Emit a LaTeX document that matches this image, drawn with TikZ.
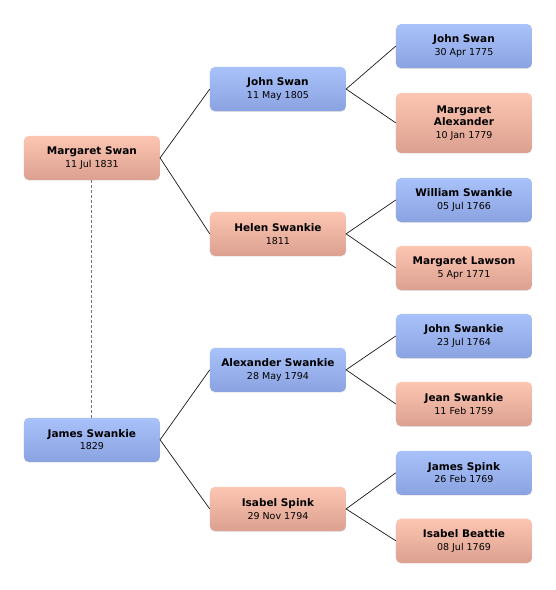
\documentclass[tikz,border=0pt]{standalone}
\usepackage{fontspec}
\setmainfont{DejaVu Sans}
\definecolor{maletop}{RGB}{170,194,250}
\definecolor{malebot}{RGB}{138,162,224}
\definecolor{femtop}{RGB}{252,198,178}
\definecolor{fembot}{RGB}{220,160,144}
\usetikzlibrary{positioning,shadows}
\newcommand{\dt}[1]{{\mdseries\fontsize{9.5}{12.5}\selectfont #1}}

\begin{document}
\begin{tikzpicture}[
    person/.style={rectangle, rounded corners=5pt, minimum width=4.78cm, minimum height=1.55cm,
        align=center, inner ysep=4pt, font=\fontsize{10.5}{12.5}\selectfont\bfseries,
        drop shadow={opacity=0.22, shadow xshift=0pt, shadow yshift=-0.8pt}},
    male/.style={person, top color=maletop, bottom color=malebot},
    female/.style={person, top color=femtop, bottom color=fembot},
    link/.style={line width=0.7pt, black!90},
]
    \useasboundingbox (0,0) rectangle (19.54,-20.74);

    % first generation
    \node[female] (ms) at (3.23,-5.55) {Margaret Swan\\\dt{11 Jul 1831}};
    \node[male] (js) at (3.23,-15.46) {James Swankie\\\dt{1829}};
    \draw[black!55, line width=0.9pt, dash pattern=on 3pt off 2pt] (ms)--(js);

    % parents
    \node[male] (jsw) at (9.77,-3.13) {John Swan\\\dt{11 May 1805}};
    \node[female] (hs) at (9.77,-8.22) {Helen Swankie\\\dt{1811}};
    \node[male] (as) at (9.77,-13.00) {Alexander Swankie\\\dt{28 May 1794}};
    \node[female] (is) at (9.77,-17.89) {Isabel Spink\\\dt{29 Nov 1794}};

    % grandparents
    \node[male] (jsw2) at (16.31,-1.62) {John Swan\\\dt{30 Apr 1775}};
    \node[female, minimum height=2.11cm] (ma) at (16.31,-4.32) {Margaret\\Alexander\\\dt{10 Jan 1779}};
    \node[male] (ws) at (16.31,-7.03) {William Swankie\\\dt{05 Jul 1766}};
    \node[female] (ml) at (16.31,-9.42) {Margaret Lawson\\\dt{5 Apr 1771}};
    \node[male] (jsk) at (16.31,-11.81) {John Swankie\\\dt{23 Jul 1764}};
    \node[female] (jns) at (16.31,-14.20) {Jean Swankie\\\dt{11 Feb 1759}};
    \node[male] (jsp) at (16.31,-16.62) {James Spink\\\dt{26 Feb 1769}};
    \node[female] (ib) at (16.31,-19.01) {Isabel Beattie\\\dt{08 Jul 1769}};

    \draw[link] (jsw.west)--(ms.east)--(hs.west);
    \draw[link] (as.west)--(js.east)--(is.west);
    \draw[link] (jsw2.west)--(jsw.east)--(ma.west);
    \draw[link] (ws.west)--(hs.east)--(ml.west);
    \draw[link] (jsk.west)--(as.east)--(jns.west);
    \draw[link] (jsp.west)--(is.east)--(ib.west);
\end{tikzpicture}
\end{document}
